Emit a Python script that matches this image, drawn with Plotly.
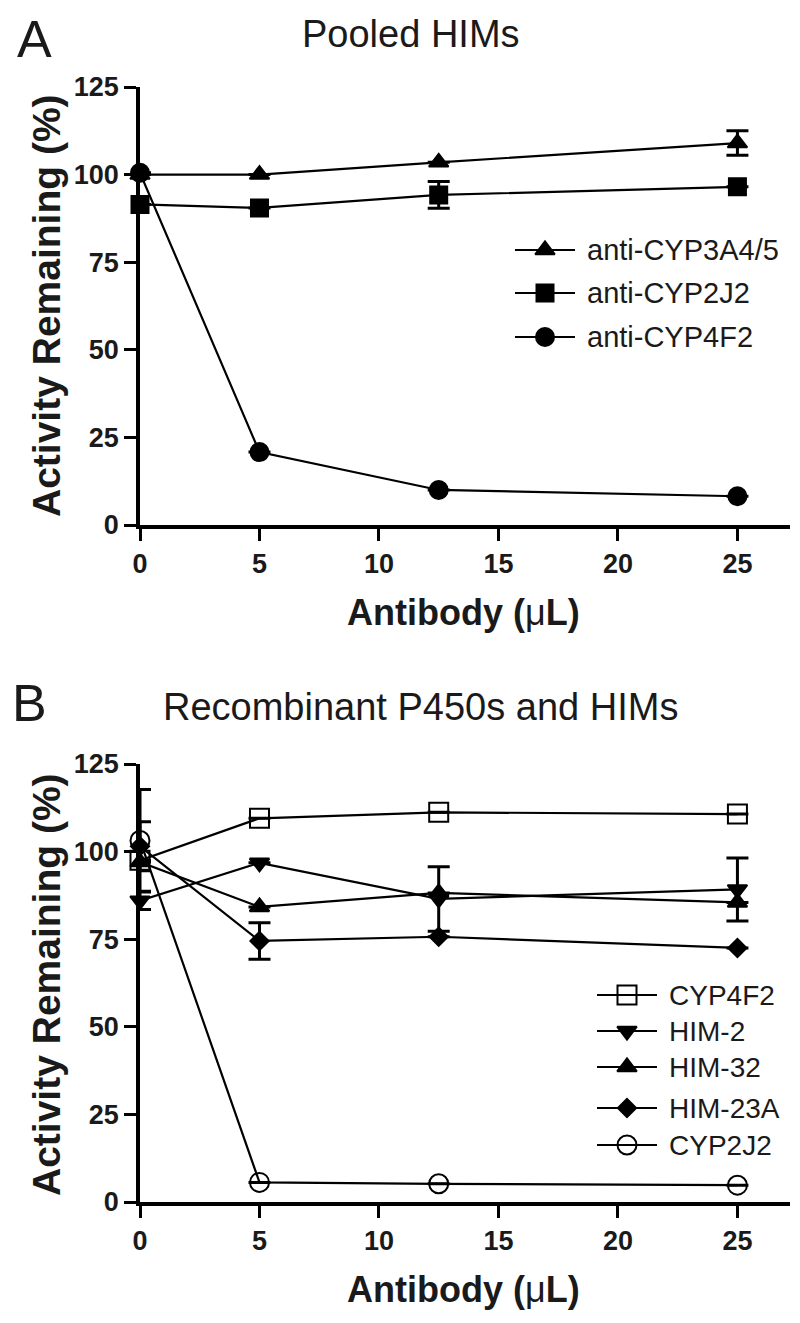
import plotly.graph_objects as go

# Antibody volumes (uL)
doses = [0, 5, 12.5, 25]

# Panel A - pooled HIMs
a_names = ["anti-CYP3A4/5", "anti-CYP2J2", "anti-CYP4F2"]
a_vals = [
    [100, 100, 103.5, 109],
    [91.5, 90.5, 94.2, 96.5],
    [100.5, 20.8, 10, 8.2],
]
a_err = [
    [0, 0, 0, 3.5],
    [0, 0, 3.8, 0],
    [0, 0, 0, 0],
]
a_symbols = ["triangle-up", "square", "circle"]
a_sizes = [17, 17, 18]

# Panel B - recombinant P450s and HIMs
b_names = ["CYP4F2", "HIM-2", "HIM-32", "HIM-23A", "CYP2J2"]
b_vals = [
    [97.5, 109.5, 111.2, 110.7],
    [86, 96.8, 86.5, 89.2],
    [97, 84.2, 88.2, 85.5],
    [101.5, 74.5, 75.7, 72.5],
    [103.2, 5.6, 5.2, 4.8],
]
b_err = [
    [0, 0, 0, 0],
    [2.5, 0, 9.2, 9],
    [0, 0, 0, 0],
    [7, 5.2, 0, 0],
    [14.5, 0, 0, 0],
]
b_symbols = ["square-open", "triangle-down", "triangle-up", "diamond", "circle-open"]
b_sizes = [19, 17, 17, 14, 19]

x_ticks = [0, 5, 10, 15, 20, 25]
y_ticks = [0, 25, 50, 75, 100, 125]

# page body has an 8px margin, so the figure is a bit smaller and offset
OFF = 8
W, H = 800 - OFF, 1323 - 2 * OFF
FONT = "Liberation Sans, Arial, sans-serif"

fig = go.Figure()


def add_series(names, vals, errs, symbols, sizes, xa, ya):
    for n, v, e, s, sz in zip(names, vals, errs, symbols, sizes):
        fig.add_trace(go.Scatter(
            x=doses, y=v, name=n, mode="lines+markers",
            xaxis=xa, yaxis=ya, showlegend=False, cliponaxis=False,
            line=dict(color="black", width=2.2),
            marker=dict(symbol=s, size=sz, color="black",
                        line=dict(color="black", width=2)),
            error_y=dict(type="data", array=e, visible=True,
                         color="black", thickness=3, width=11),
        ))


add_series(a_names, a_vals, a_err, a_symbols, a_sizes, "x", "y")
add_series(b_names, b_vals, b_err, b_symbols, b_sizes, "x2", "y2")

# hand-made legends on a page-pixel overlay axis (x3/y3)
legend_a = dict(names=a_names, symbols=a_symbols, sizes=a_sizes,
                ys=[250, 293, 337], x0=515, x1=575, tx=585, fs=29)
legend_b = dict(names=b_names, symbols=b_symbols, sizes=b_sizes,
                ys=[995, 1031, 1067, 1108, 1145], x0=597, x1=657, tx=667, fs=28)

annotations = []
for lg in (legend_a, legend_b):
    xm = (lg["x0"] + lg["x1"]) / 2
    for n, s, sz, yy in zip(lg["names"], lg["symbols"], lg["sizes"], lg["ys"]):
        fig.add_trace(go.Scatter(
            x=[lg["x0"], xm, lg["x1"]], y=[yy, yy, yy], mode="lines",
            xaxis="x3", yaxis="y3", showlegend=False, hoverinfo="skip",
            line=dict(color="black", width=2.2),
        ))
        fig.add_trace(go.Scatter(
            x=[xm], y=[yy], mode="markers",
            xaxis="x3", yaxis="y3", showlegend=False, hoverinfo="skip",
            marker=dict(symbol=s, size=sz, color="black",
                        line=dict(color="black", width=2)),
        ))
        annotations.append(dict(
            x=lg["tx"], y=yy, xref="x3", yref="y3", text=n, showarrow=False,
            xanchor="left", yanchor="middle",
            font=dict(size=lg["fs"], color="#1a1a1a", family=FONT),
        ))


def px(x, y):
    return (x - OFF) / W, 1 - (y - OFF) / H


def note(text, x, y, size, angle=0, yanchor="middle"):
    xx, yy = px(x, y)
    annotations.append(dict(
        x=xx, y=yy, xref="paper", yref="paper", text=text, showarrow=False,
        xanchor="center", yanchor=yanchor, textangle=angle,
        font=dict(size=size, color="#1a1a1a", family=FONT),
    ))


note("A", 35, OFF, 52, yanchor="top")
note("Pooled HIMs", 411, 34, 38)
note("B", 29, 703, 52)
note("Recombinant P450s and HIMs", 420, 707, 38)
note("<b>Activity Remaining (%)</b>", 46, 306, 39, angle=-90)
note("<b>Activity Remaining (%)</b>", 46, 985, 39, angle=-90)
note("<b>Antibody (</b>μ<b>L)</b>", 463, 612, 36)
note("<b>Antibody (</b>μ<b>L)</b>", 463, 1289, 36)

x0, _ = px(140, 0)
x1, _ = px(790, 0)
_, ya0 = px(0, 525)
_, ya1 = px(0, 87)
_, yb0 = px(0, 1202)
_, yb1 = px(0, 764)

axis_common = dict(
    showline=True, linewidth=3.5, linecolor="black", mirror=False,
    ticks="outside", ticklen=12, tickwidth=3, tickcolor="black",
    showgrid=False, zeroline=False, automargin=False,
    tickfont=dict(size=27, color="#1a1a1a", family=FONT, weight="bold"),
)
xcommon = dict(axis_common, range=[0, 27.2], tickvals=x_ticks, domain=[x0, x1])
ycommon = dict(axis_common, range=[0, 125], tickvals=y_ticks)

fig.update_layout(
    width=W, height=H,
    margin=dict(l=0, r=0, t=0, b=0),
    paper_bgcolor="white", plot_bgcolor="rgba(0,0,0,0)",
    showlegend=False,
    xaxis=dict(xcommon, anchor="y"),
    yaxis=dict(ycommon, anchor="x", domain=[ya0, ya1]),
    xaxis2=dict(xcommon, anchor="y2"),
    yaxis2=dict(ycommon, anchor="x2", domain=[yb0, yb1]),
    xaxis3=dict(domain=[0, 1], range=[OFF, OFF + W], visible=False,
                anchor="y3", fixedrange=True),
    yaxis3=dict(domain=[0, 1], range=[OFF + H, OFF], visible=False,
                anchor="x3", fixedrange=True),
    annotations=annotations,
)

fig.write_html("out.html")
